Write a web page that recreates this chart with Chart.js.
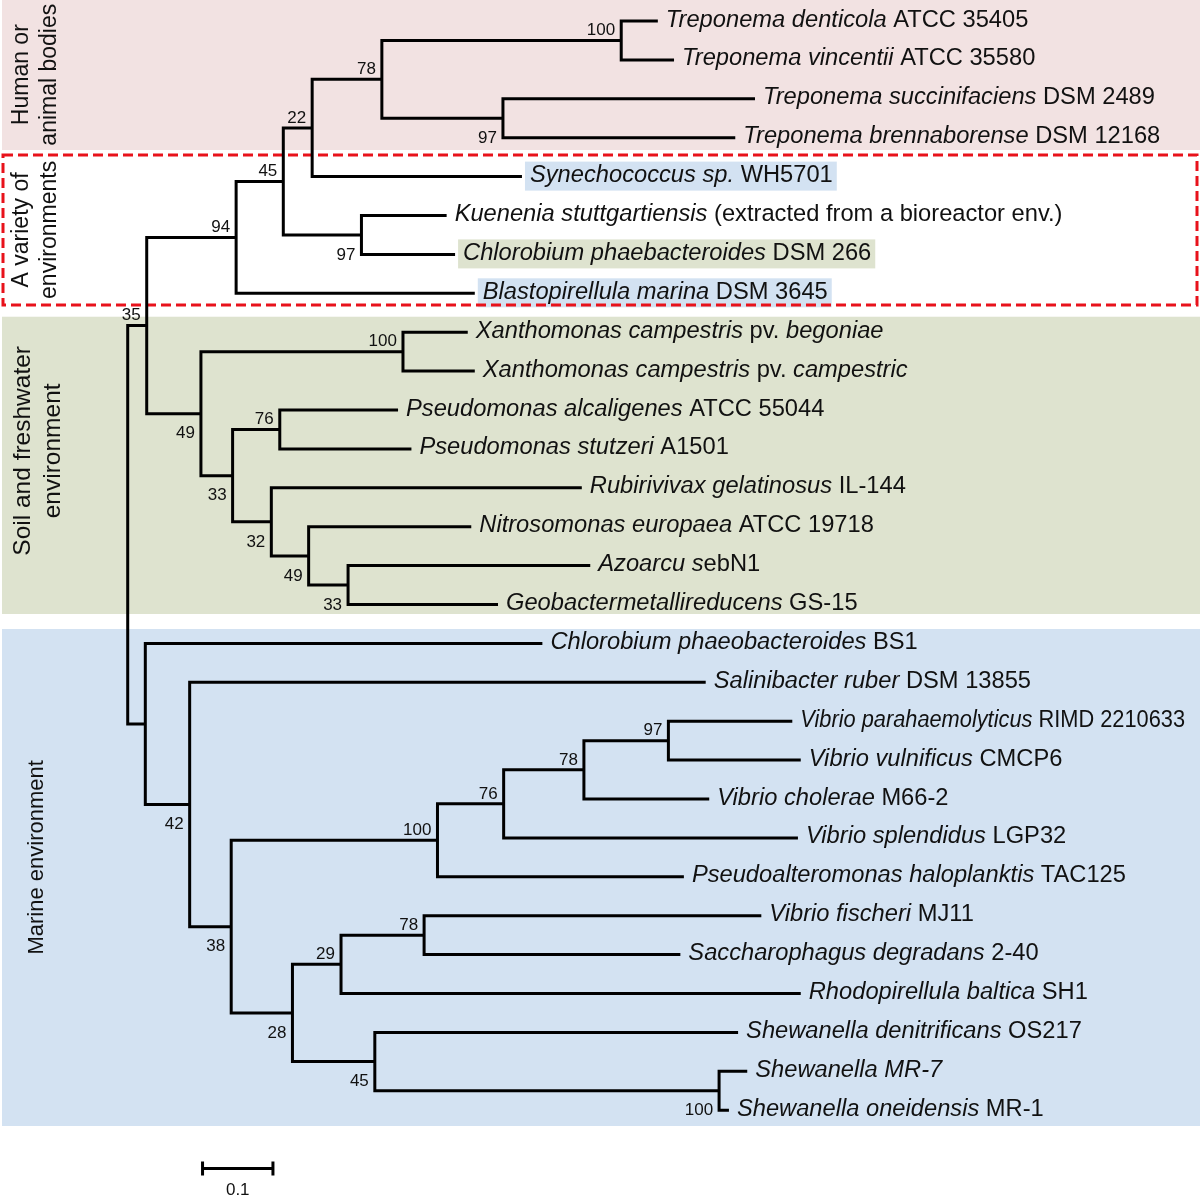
<!DOCTYPE html>
<html>
<head>
<meta charset="utf-8">
<script src="https://cdn.jsdelivr.net/npm/chart.js@4.4.0/dist/chart.umd.min.js"></script>
<style>
  html, body { margin: 0; padding: 0; background: #fff; }
  #wrap { width: 1200px; height: 1201px; }
</style>
</head>
<body>
<div id="wrap"><canvas id="tree"></canvas></div>
<script>
// leaf labels, text between * is italic
const leafLabels = [
  "*Treponema denticola* ATCC 35405",
  "*Treponema vincentii* ATCC 35580",
  "*Treponema succinifaciens* DSM 2489",
  "*Treponema brennaborense* DSM 12168",
  "*Synechococcus sp.* WH5701",
  "*Kuenenia stuttgartiensis* (extracted from a bioreactor env.)",
  "*Chlorobium phaebacteroides* DSM 266",
  "*Blastopirellula marina* DSM 3645",
  "*Xanthomonas campestris* pv. *begoniae*",
  "*Xanthomonas campestris* pv. *campestric*",
  "*Pseudomonas alcaligenes* ATCC 55044",
  "*Pseudomonas stutzeri* A1501",
  "*Rubirivivax gelatinosus* IL-144",
  "*Nitrosomonas europaea* ATCC 19718",
  "*Azoarcu s*ebN1",
  "*Geobactermetallireducens* GS-15",
  "*Chlorobium phaeobacteroides* BS1",
  "*Salinibacter ruber* DSM 13855",
  "*Vibrio parahaemolyticus* RIMD 2210633",
  "*Vibrio vulnificus* CMCP6",
  "*Vibrio cholerae* M66-2",
  "*Vibrio splendidus* LGP32",
  "*Pseudoalteromonas haloplanktis* TAC125",
  "*Vibrio fischeri* MJ11",
  "*Saccharophagus degradans* 2-40",
  "*Rhodopirellula baltica* SH1",
  "*Shewanella denitrificans* OS217",
  "*Shewanella MR-7*",
  "*Shewanella oneidensis* MR-1"
];

// distance of each leaf from the root
const leafDepth = [
  0.753, 0.776, 0.891, 0.863, 0.560, 0.453, 0.465, 0.493,
  0.483, 0.493, 0.384, 0.403, 0.645, 0.488, 0.657, 0.526,
  0.589, 0.821, 0.944, 0.956, 0.826, 0.952, 0.790,
  0.900, 0.785, 0.956, 0.867, 0.880, 0.854
];

// internal nodes: id, distance from root, children (numbers are leaves)
const nodeIds = ["root", "A", "B", "C", "D", "E", "F", "G", "H", "I", "J", "K", "L", "M", "N", "O",
  "P", "Q", "R", "S", "T", "U", "V", "W", "X", "Y", "Z", "AA"];
const nodeDepth = [0, 0.027, 0.154, 0.221, 0.262, 0.361, 0.701, 0.533, 0.332, 0.104, 0.391, 0.149,
  0.216, 0.204, 0.257, 0.313, 0.025, 0.088, 0.147, 0.440, 0.534, 0.648, 0.768, 0.234, 0.303,
  0.421, 0.351, 0.840];
const nodeChildren = [["A", "P"], ["B", "I"], ["C", 7], ["D", "H"], ["E", 4], ["F", "G"], [0, 1], [2, 3],
  [5, 6], ["J", "K"], [8, 9], ["L", "M"], [10, 11], [12, "N"], [13, "O"], [14, 15],
  [16, "Q"], [17, "R"], ["S", "W"], ["T", 22], ["U", 21], ["V", 20], [18, 19],
  ["X", "Z"], ["Y", 25], [23, 24], [26, "AA"], [27, 28]];
const bootstrap = [null, 35, 94, 45, 22, 78, 100, 97, 97, 49, 100, 33, 76, 32, 49, 33,
  null, 42, 38, 100, 76, 78, 97, 28, 29, 78, 45, 100];
const bootstrapSide = ["", "up", "up", "up", "up", "up", "up", "down", "down", "down", "up", "down", "up",
  "down", "down", "down", "", "down", "down", "up", "up", "up", "up", "down", "up", "up", "down", "down"];

const scaleBarLength = 0.1;
const scaleBarLabel = "0.1";

// environment groups
const groupNames = [["Human or", "animal bodies"], ["A variety of", "environments"],
  ["Soil and freshwater", "environment"], ["Marine environment"]];

const FONT = '"Liberation Sans", Arial, Helvetica, sans-serif';
const LEAF_PX = 23.7;
const RIGHT_LIMIT = 1185;

const nodeIndex = (id) => nodeIds.indexOf(id);
const depthOf = (c) => typeof c === "number" ? leafDepth[c] : nodeDepth[nodeIndex(c)];
const yOf = (c) => {
  if (typeof c === "number") return c;
  const kids = nodeChildren[nodeIndex(c)];
  return (yOf(kids[0]) + yOf(kids[kids.length - 1])) / 2;
};

const branchSets = nodeIds.map((id, k) => {
  const [c1, c2] = nodeChildren[k];
  const d = nodeDepth[k];
  return {
    data: [
      { x: depthOf(c1), y: yOf(c1) },
      { x: d, y: yOf(c1) },
      { x: d, y: yOf(c2) },
      { x: depthOf(c2), y: yOf(c2) }
    ],
    showLine: true,
    borderColor: "#000",
    borderWidth: 3,
    borderJoinStyle: "miter",
    borderCapStyle: "butt",
    pointRadius: 0,
    tension: 0
  };
});

// scale bar drawn through the same scales
const barX0 = 0.1063, barY = 29.5, tick = 0.18;
const barSets = [
  [{ x: barX0, y: barY }, { x: barX0 + scaleBarLength, y: barY }],
  [{ x: barX0, y: barY - tick }, { x: barX0, y: barY + tick }],
  [{ x: barX0 + scaleBarLength, y: barY - tick }, { x: barX0 + scaleBarLength, y: barY + tick }]
].map((pts) => ({
  data: pts, showLine: true, borderColor: "#000", borderWidth: 3,
  borderCapStyle: "butt", pointRadius: 0
}));

const BLUE = "#d3e2f2", GREEN = "#dee3cf", PINK = "#f2e2e2";
// band extents in leaf units
const bands = [
  { y0: -0.6, y1: 3.316, color: PINK, lx: [22, 50], ly: 1.38, size: 23 },
  { y0: 3.445, y1: 7.301, color: null, lx: [22, 50], ly: 5.37, size: 23 },
  { y0: 7.602, y1: 15.244, color: GREEN, lx: [23, 53], ly: 11.05, size: 24.5 },
  { y0: 15.630, y1: 28.406, color: BLUE, lx: [37], ly: 21.5, size: 22 }
];
const highlight = { 4: BLUE, 6: GREEN, 7: BLUE };

function labelWidth(ctx, lab) {
  let w = 0;
  lab.split("*").forEach((part, j) => {
    ctx.font = (j % 2 ? "italic " : "") + LEAF_PX + "px " + FONT;
    w += ctx.measureText(part).width;
  });
  return w;
}

const decor = {
  id: "decor",
  beforeDatasetsDraw(chart) {
    const { ctx, chartArea: a, scales: { x, y } } = chart;
    ctx.save();
    bands.forEach((b) => {
      if (!b.color) return;
      ctx.fillStyle = b.color;
      const t = y.getPixelForValue(b.y0), bt = y.getPixelForValue(b.y1);
      ctx.fillRect(a.left + 2, t, a.right - a.left - 2, bt - t);
    });
    // leaf highlight boxes
    Object.keys(highlight).forEach((k) => {
      const i = +k;
      const x0 = x.getPixelForValue(leafDepth[i]) + 3;
      const w = labelWidth(ctx, leafLabels[i]) + 9;
      const yc = y.getPixelForValue(i);
      ctx.fillStyle = highlight[k];
      ctx.fillRect(x0, yc - 15, w, 29);
    });
    // dashed red box
    const db = bands[1];
    ctx.strokeStyle = "#e8121b";
    ctx.lineWidth = 3;
    ctx.setLineDash([10, 5]);
    const t = y.getPixelForValue(db.y0), bt = y.getPixelForValue(db.y1);
    ctx.strokeRect(a.left + 3, t, a.right - a.left - 6, bt - t);
    ctx.setLineDash([]);
    // group names, rotated
    ctx.fillStyle = "#111";
    ctx.textAlign = "center";
    ctx.textBaseline = "middle";
    bands.forEach((b, g) => {
      const yc = y.getPixelForValue(b.ly);
      ctx.font = b.size + "px " + FONT;
      groupNames[g].forEach((line, j) => {
        ctx.save();
        ctx.translate(a.left + b.lx[j], yc);
        ctx.rotate(-Math.PI / 2);
        ctx.fillText(line, 0, 0);
        ctx.restore();
      });
    });
    ctx.restore();
  },
  afterDatasetsDraw(chart) {
    const { ctx, scales: { x, y } } = chart;
    ctx.save();
    ctx.fillStyle = "#111";
    ctx.textBaseline = "middle";
    ctx.textAlign = "left";
    leafLabels.forEach((lab, i) => {
      const x0 = x.getPixelForValue(leafDepth[i]) + 8;
      const py = y.getPixelForValue(i) - 1;
      const w = labelWidth(ctx, lab);
      const sx = Math.min(1, (RIGHT_LIMIT - x0) / w);
      ctx.save();
      ctx.translate(x0, py);
      ctx.scale(sx, 1);
      let px = 0;
      lab.split("*").forEach((part, j) => {
        if (!part) return;
        ctx.font = (j % 2 ? "italic " : "") + LEAF_PX + "px " + FONT;
        ctx.fillText(part, px, 0);
        px += ctx.measureText(part).width;
      });
      ctx.restore();
    });
    // bootstrap values
    ctx.font = "17px " + FONT;
    ctx.textAlign = "right";
    nodeIds.forEach((id, k) => {
      if (bootstrap[k] == null) return;
      const px = x.getPixelForValue(nodeDepth[k]) - 6;
      const ly = y.getPixelForValue(yOf(id));
      const py = bootstrapSide[k] === "up" ? ly - 10 : ly + 20;
      ctx.fillText(String(bootstrap[k]), px, py);
    });
    // scale bar label
    ctx.textAlign = "center";
    ctx.font = "17px " + FONT;
    ctx.fillText(scaleBarLabel, x.getPixelForValue(barX0 + scaleBarLength / 2), y.getPixelForValue(barY) + 22);
    ctx.restore();
  }
};

// root sits at 127.7px; 0.1 units = 70.4px
new Chart(document.getElementById("tree"), {
  type: "scatter",
  data: { datasets: branchSets.concat(barSets) },
  options: {
    responsive: true,
    maintainAspectRatio: false,
    animation: false,
    layout: { padding: 0 },
    scales: {
      x: { type: "linear", display: false, min: -0.1814, max: 1.5231 },
      y: { type: "linear", display: false, reverse: true, min: -0.540, max: 30.334 }
    },
    plugins: {
      legend: { display: false },
      tooltip: { enabled: false }
    }
  },
  plugins: [decor]
});
</script>
</body>
</html>
